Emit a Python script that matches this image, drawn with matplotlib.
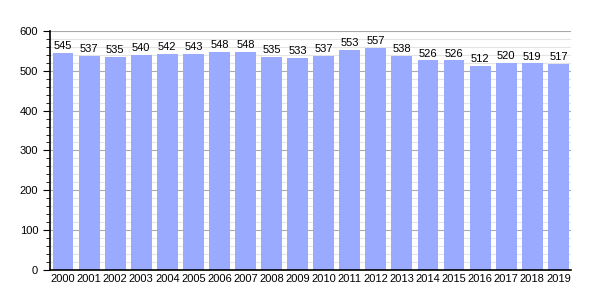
import numpy as np
import matplotlib.pyplot as plt
from matplotlib.ticker import MultipleLocator

plt.rcParams['font.family'] = ['Liberation Sans', 'DejaVu Sans']

# Data
years = [str(y) for y in range(2000, 2020)]
values = [545, 537, 535, 540, 542, 543, 548, 548, 535, 533,
          537, 553, 557, 538, 526, 526, 512, 520, 519, 517]

fig = plt.figure(figsize=(6, 3), dpi=100)
ax = fig.add_axes([0.0833, 0.1, 0.869, 0.797])

x = np.arange(len(years))
ax.bar(x, values, width=0.8, color='#99aaff', zorder=2)

for xi, v in zip(x, values):
    ax.text(xi, v + 4, str(v), ha='center', va='bottom', fontsize=8, zorder=3)

ax.set_xlim(-0.5, len(years) - 0.5)
ax.set_ylim(0, 600)
ax.set_xticks(x)
ax.set_xticklabels(years, fontsize=8)
ax.yaxis.set_major_locator(MultipleLocator(100))
ax.yaxis.set_minor_locator(MultipleLocator(20))
ax.tick_params(axis='y', which='major', length=5, labelsize=8, direction='out')
ax.tick_params(axis='y', which='minor', length=3, direction='out')
ax.tick_params(axis='x', length=0, pad=3)

ax.grid(axis='y', which='major', color='#aaaaaa', linewidth=0.8, zorder=0)
ax.grid(axis='y', which='minor', color='#e4e4e4', linewidth=0.8, zorder=0)
ax.set_axisbelow(True)

ax.spines['right'].set_visible(False)
ax.spines['top'].set_visible(False)
ax.spines['left'].set_linewidth(1.2)
ax.spines['bottom'].set_linewidth(1.2)

fig.savefig('out.png', dpi=100)
